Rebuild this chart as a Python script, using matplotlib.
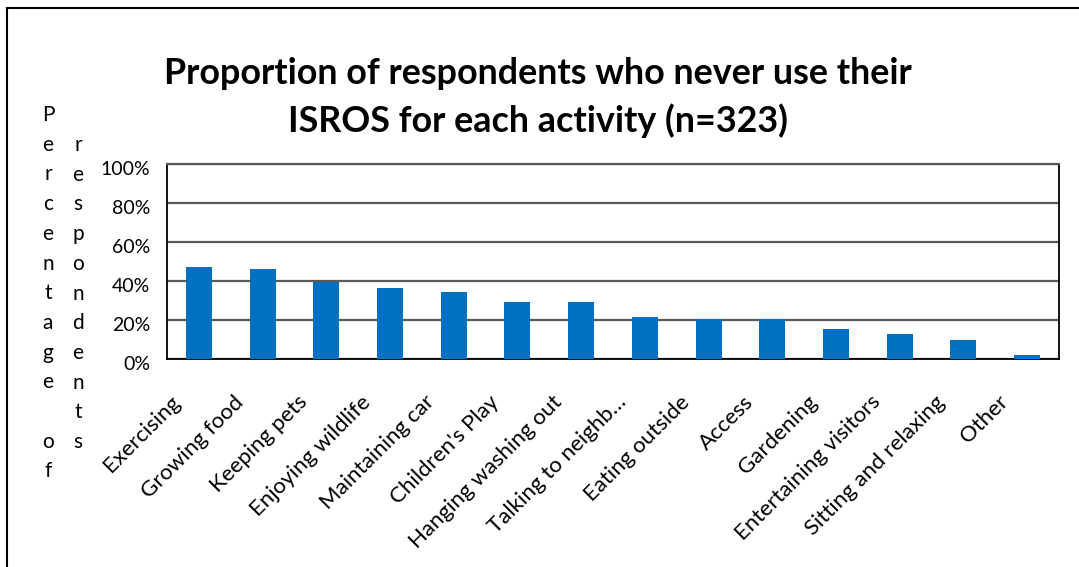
import numpy as np
import matplotlib.pyplot as plt
import matplotlib.transforms as mtransforms
from matplotlib.lines import Line2D

activities = ['Exercising', 'Growing food', 'Keeping pets', 'Enjoying wildlife',
              'Maintaining car', "Children's Play", 'Hanging washing out',
              'Talking to neighb\u2026', 'Eating outside', 'Access', 'Gardening',
              'Entertaining visitors', 'Sitting and relaxing', 'Other']
never_use = [47.2, 46.2, 39.5, 36.4, 34.4, 29.2, 29.2,
             21.5, 20.5, 20.5, 15.4, 12.8, 9.7, 2.1]
yticks = [0, 20, 40, 60, 80, 100]

plt.rcParams['font.family'] = ['Lato', 'DejaVu Sans']

W, H = 1079, 567
fig = plt.figure(figsize=(W / 100, H / 100), dpi=100)
ax = fig.add_axes([167 / W, 1 - 359 / H, (1059 - 167) / W, (359 - 164) / H])

x = np.arange(len(activities))
ax.bar(x, never_use, width=0.41, color='#0070C0', zorder=3)

ax.set_xlim(-0.5, len(activities) - 0.5)
ax.set_ylim(0, 100)
ax.set_yticks(yticks)
ax.set_yticklabels(['%d%%' % v for v in yticks], fontsize=14)
ax.yaxis.grid(True, color='#5a5a5a', lw=1.6, zorder=0)
ax.tick_params(axis='y', length=0, pad=12)
ax.tick_params(axis='x', length=0, pad=0)
ydown = mtransforms.ScaledTranslation(0, -4 / 100, fig.dpi_scale_trans)
for lbl in ax.get_yticklabels():
    lbl.set_transform(lbl.get_transform() + ydown)

ax.set_xticks(x)
ax.set_xticklabels(activities, fontsize=16, rotation=45, ha='right',
                   va='center', rotation_mode='anchor')
shift = mtransforms.ScaledTranslation(-22 / 100, -40 / 100, fig.dpi_scale_trans)
for lbl in ax.get_xticklabels():
    lbl.set_transform(lbl.get_transform() + shift)

for side in ['left', 'bottom', 'right']:
    ax.spines[side].set_color('black')
    ax.spines[side].set_linewidth(1.3)
ax.spines['top'].set_color('#5a5a5a')
ax.spines['top'].set_linewidth(1.6)

fig.text(538 / W, 1 - 97.5 / H,
         'Proportion of respondents who never use their\nISROS for each activity (n=323)',
         ha='center', va='center', fontsize=25.8, fontweight='bold', linespacing=1.45)

# stacked axis title, letters in two columns
col1 = 'Percentage of'
col2 = 'respondents'
dy = 29.7
for i, ch in enumerate(col1):
    fig.text(48 / W, 1 - (115 + i * dy) / H, ch, ha='center', va='center', fontsize=15)
for i, ch in enumerate(col2):
    fig.text(78 / W, 1 - (145 + i * dy) / H, ch, ha='center', va='center', fontsize=15)

# chart border
fig.add_artist(Line2D([7 / W, 7 / W], [-0.1, 1 - 8 / H], transform=fig.transFigure,
                      color='black', lw=1.5))
fig.add_artist(Line2D([7 / W, 1.1], [1 - 8 / H, 1 - 8 / H], transform=fig.transFigure,
                      color='black', lw=1.5))

fig.savefig('out.png', dpi=100)
